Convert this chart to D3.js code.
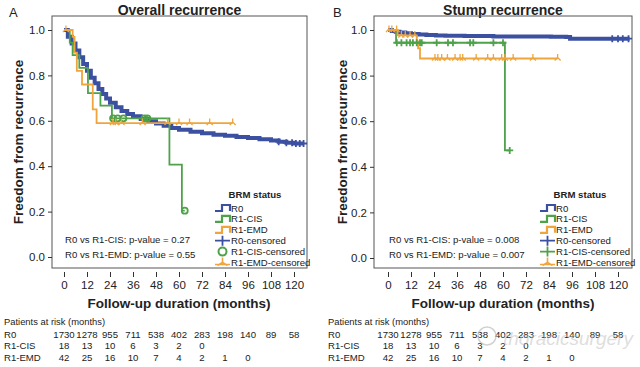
<!DOCTYPE html>
<html><head><meta charset="utf-8">
<script src="https://cdn.jsdelivr.net/npm/d3@7"></script>
<style>body{margin:0;background:#fff;} text{font-family:"Liberation Sans",Arial,sans-serif;fill:#222;}</style>
</head><body><svg id="c" width="640" height="367"></svg>
<script>
// ---------- data ----------
const xTicks = [0,12,24,36,48,60,72,84,96,108,120];
const yTicks = [0,0.2,0.4,0.6,0.8,1.0];
const groupNames = ["R0","R1-CIS","R1-EMD"];
const legendLabels = ["R0","R1-CIS","R1-EMD","R0-censored","R1-CIS-censored","R1-EMD-censored"];
const riskTimes = [0,12,24,36,48,60,72,84,96,108,120];
const riskR0 = [1730,1278,955,711,538,402,283,198,140,89,58];
const riskCIS = [18,13,10,6,3,2,0];
const riskEMD = [42,25,16,10,7,4,2,1,0];

// Panel A: overall recurrence  [months, survival]
const overallR0 = [[0,1],[2,0.97],[4,0.94],[6,0.91],[8,0.88],[10,0.85],[12,0.82],[14,0.79],[16,0.765],[18,0.74],[20,0.718],[22,0.698],[24,0.68],[27,0.66],[30,0.643],[33,0.63],[36,0.62],[40,0.608],[44,0.598],[48,0.588],[52,0.578],[56,0.568],[60,0.561],[66,0.552],[72,0.545],[78,0.539],[84,0.534],[90,0.529],[96,0.524],[102,0.519],[108,0.513],[112,0.508],[116,0.503],[120,0.5],[125,0.5]];
const overallCIS = [[0,1],[3,0.944],[4.5,0.889],[8,0.833],[12.5,0.722],[19,0.667],[25,0.611],[55,0.407],[61.5,0.204],[63,0.204]];
const overallEMD = [[0,1],[4.5,0.97],[5.5,0.9],[6.7,0.82],[9.4,0.76],[15,0.65],[17,0.59],[88,0.59]];
const overallR0Cens = [112,116,119,121,123,125];
const overallCISCens = [25.6,28,31,42,43.5,63];
const overallEMDCens = [1,25.5,27,30,41,54,60,65.5,76,88];
const overallP = ["R0 vs R1-CIS: p-value = 0.27","R0 vs R1-EMD: p-value = 0.55"];

// Panel B: stump recurrence
const stumpR0 = [[0,1],[2,0.996],[4,0.992],[6,0.989],[9,0.986],[12,0.983],[16,0.98],[20,0.978],[25,0.976],[30,0.975],[40,0.974],[55,0.972],[70,0.971],[85,0.97],[93,0.969],[95,0.962],[126,0.962]];
const stumpCIS = [[0,1],[4.2,0.944],[61,0.472],[63.5,0.472]];
const stumpEMD = [[0,1],[5,0.976],[15,0.95],[15.7,0.92],[16.7,0.875],[88.5,0.875]];
const stumpR0Cens = [117,120,122.5,125.5];
const stumpCISCens = [4.6,7,9.7,11.5,13,15,16.7,17.6,25.4,31.3,33.9,42.8,44.5,55,60,63.5];
const stumpEMDCens = [0.5,2,4.5,7,9,11.5,14,24.5,26,28,31,35,37.6,39,46,52,55,59.3,61,65.3,75.6,88.5];
const stumpP = ["R0 vs R1-CIS: p-value = 0.008","R0 vs R1-EMD: p-value = 0.007"];

// ---------- style ----------
const colors = {"R0":"#3c50a2","R1-CIS":"#4ea24a","R1-EMD":"#efa53c"};
const svg = d3.select("#c");

const panels = [
  {letter:"A", title:"Overall recurrence", fl:52, ft:16, fr:307, fb:268, x0:64, x120:294, y0:257, y1:30,
   series:[overallR0,overallCIS,overallEMD], cens:[overallR0Cens,overallCISCens,overallEMDCens], pvals:overallP,
   cisMarker:"circle", ox:0},
  {letter:"B", title:"Stump recurrence", fl:374, ft:16, fr:632, fb:268, x0:388, x120:618, y0:258, y1:30,
   series:[stumpR0,stumpCIS,stumpEMD], cens:[stumpR0Cens,stumpCISCens,stumpEMDCens], pvals:stumpP,
   cisMarker:"plus", ox:324}
];

function stepValue(series, t){
  let v = series[0][1];
  for (const [tt, s] of series){ if (tt <= t + 1e-9) v = s; }
  return v;
}

const plusPath = "M-3.5,0H3.5M0,-3.5V3.5";
const emdPath = "M-3,2L0,-1L3,2M0,-1V-4.5";

panels.forEach(p => {
  const g = svg.append("g");
  const x = d3.scaleLinear().domain([0,120]).range([p.x0,p.x120]);
  const y = d3.scaleLinear().domain([0,1]).range([p.y0,p.y1]);

  // panel letter & title
  g.append("text").attr("x", p.ox + 9).attr("y", 17).attr("font-size", 13).text(p.letter);
  g.append("text").attr("x", (p.fl+p.fr)/2).attr("y", 15).attr("text-anchor","middle")
    .attr("font-size", 14).attr("font-weight","bold").text(p.title);

  // frame
  g.append("rect").attr("x", p.fl).attr("y", p.ft).attr("width", p.fr-p.fl).attr("height", p.fb-p.ft)
    .attr("fill","none").attr("stroke","#555").attr("stroke-width",1);

  // y axis
  const ya = g.append("g").attr("transform",`translate(${p.fl},0)`)
    .call(d3.axisLeft(y).tickValues(yTicks).tickFormat(d3.format(".1f")).tickSize(4).tickPadding(3));
  ya.select(".domain").remove();
  ya.selectAll("text").attr("font-size", 11.5).style("font-family","'Liberation Sans',Arial,sans-serif").attr("fill","#222");
  ya.selectAll("line").attr("stroke","#333");

  // x axis
  const xa = g.append("g").attr("transform",`translate(0,${p.fb+4})`)
    .call(d3.axisBottom(x).tickValues(xTicks).tickSize(5).tickPadding(4));
  xa.select(".domain").remove();
  xa.selectAll("text").attr("font-size", 11.5).style("font-family","'Liberation Sans',Arial,sans-serif").attr("fill","#222");
  xa.selectAll("line").attr("stroke","#333");

  // axis titles
  g.append("text").attr("x", (p.x0+p.x120)/2).attr("y", 308).attr("text-anchor","middle")
    .attr("font-size", 13.5).attr("font-weight","bold").text("Follow-up duration (months)");
  g.append("text").attr("transform",`translate(${p.ox+23},${(p.ft+p.fb)/2}) rotate(-90)`)
    .attr("text-anchor","middle").attr("font-size", 13.5).attr("font-weight","bold").text("Freedom from recurrence");

  // curves
  const line = d3.line().x(d=>x(d[0])).y(d=>y(d[1])).curve(d3.curveStepAfter);
  const widths = [4, 1.8, 1.8];
  p.series.forEach((s,i) => {
    g.append("path").datum(s).attr("d", line).attr("fill","none")
      .attr("stroke", colors[groupNames[i]]).attr("stroke-width", widths[i]);
  });

  // censor marks
  p.cens.forEach((ct,i) => {
    const col = colors[groupNames[i]];
    const s = p.series[i];
    ct.forEach(t => {
      const cx = x(t), cy = y(stepValue(s,t));
      if (i === 1 && p.cisMarker === "circle") {
        g.append("circle").attr("cx",cx).attr("cy",cy).attr("r",3)
          .attr("fill","none").attr("stroke",col).attr("stroke-width",1.8);
      } else if (i === 2) {
        g.append("path").attr("d", emdPath).attr("transform",`translate(${cx},${cy})`)
          .attr("fill","none").attr("stroke",col).attr("stroke-width",1.3);
      } else {
        g.append("path").attr("d", plusPath).attr("transform",`translate(${cx},${cy})`)
          .attr("fill","none").attr("stroke",col).attr("stroke-width",1.8);
      }
    });
  });

  // p-values
  p.pvals.forEach((t,i) => {
    g.append("text").attr("x", p.x0+1).attr("y", 242.5 + i*15).attr("font-size", 9.6).text(t);
  });

  // legend
  const lx = p.fr - 92, ly = 194;
  g.append("text").attr("x", lx + 40).attr("y", ly + 3.5).attr("text-anchor","middle")
    .attr("font-size", 9.6).attr("font-weight","bold").text("BRM status");
  legendLabels.forEach((lab,i) => {
    const yy = ly + 14 + i*10.9;
    const col = colors[groupNames[i % 3]];
    const sg = g.append("g").attr("transform",`translate(${lx},${yy})`);
    if (i < 3) {
      sg.append("path").attr("d","M0,3H7V-3H15V3").attr("fill","none").attr("stroke",col).attr("stroke-width",2.2);
    } else if (i === 3 || (i === 4 && p.cisMarker === "plus")) {
      sg.append("path").attr("d","M0,0H15M7.5,-5V5").attr("fill","none").attr("stroke",col).attr("stroke-width",1.8);
    } else if (i === 4) {
      sg.append("circle").attr("cx",7.5).attr("cy",0).attr("r",4).attr("fill","none").attr("stroke",col).attr("stroke-width",2);
    } else {
      sg.append("path").attr("d","M0,2H15M7.5,-5V0M2.5,3L7.5,0L12.5,3").attr("fill","none").attr("stroke",col).attr("stroke-width",1.6);
    }
    g.append("text").attr("x", lx + 16).attr("y", yy + 3.5).attr("font-size", 9.6).text(lab);
  });

  // patients at risk
  const rx = p.ox + 4;
  g.append("text").attr("x", rx).attr("y", 325).attr("font-size", 9.4).text("Patients at risk (months)");
  const rows = [riskR0, riskCIS, riskEMD];
  rows.forEach((r,i) => {
    const yy = 337.5 + i*11.7;
    g.append("text").attr("x", rx).attr("y", yy).attr("font-size", 9.6).text(groupNames[i]);
    r.forEach((v,j) => {
      g.append("text").attr("x", x(riskTimes[j])).attr("y", yy).attr("text-anchor","middle")
        .attr("font-size", 9.6).text(v);
    });
  });
});

// watermark on panel B
svg.append("text").attr("x", 503).attr("y", 345).attr("font-size", 19).attr("font-style","italic")
  .attr("fill","#c8c8c8").attr("fill-opacity",0.75).style("fill","rgba(190,190,190,0.7)").text("thoracicsurgery");
svg.append("circle").attr("cx", 487).attr("cy", 336).attr("r", 9).attr("fill","none")
  .attr("stroke","rgba(190,190,190,0.7)").attr("stroke-width",1.5);
</script></body></html>
